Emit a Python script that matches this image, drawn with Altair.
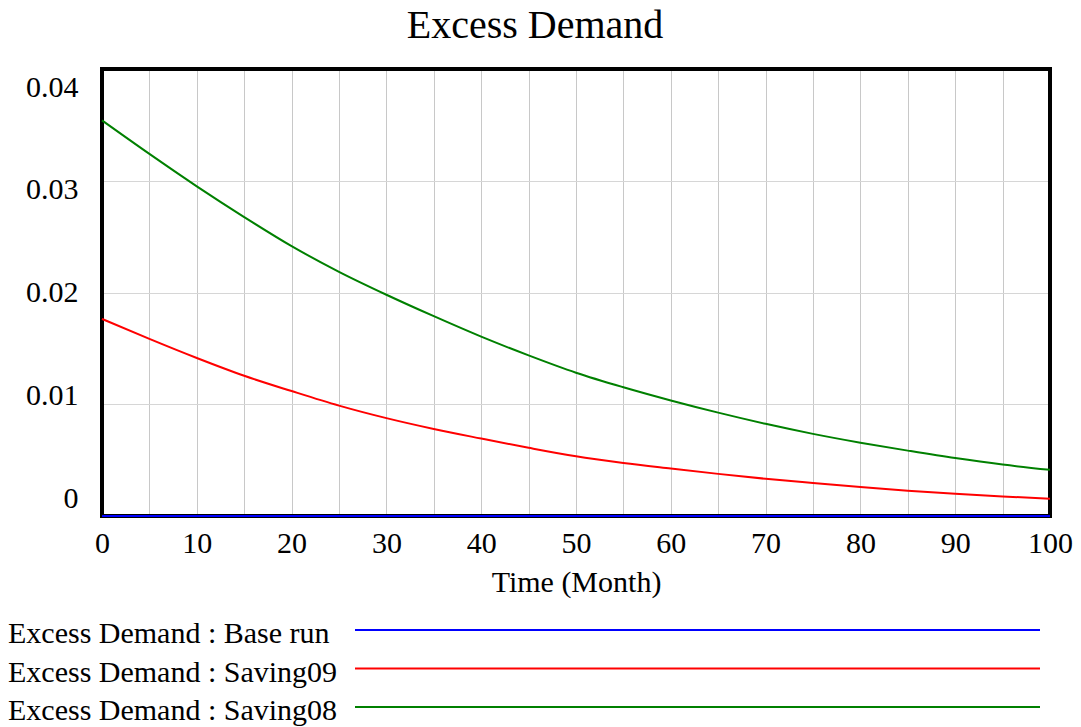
import altair as alt
import pandas as pd

FONT = "Liberation Serif"

months = [0, 5, 10, 15, 20, 25, 30, 35, 40, 45, 50, 55, 60, 65, 70, 75, 80, 85, 90, 95, 100]
base_run = [0.0, 0.0, 0.0, 0.0, 0.0, 0.0, 0.0, 0.0, 0.0, 0.0, 0.0,
            0.0, 0.0, 0.0, 0.0, 0.0, 0.0, 0.0, 0.0, 0.0, 0.0]
saving09 = [0.01764, 0.01585, 0.01414, 0.01255, 0.01118, 0.00988, 0.00876, 0.00779, 0.00693, 0.00610, 0.00534,
            0.00475, 0.00425, 0.00377, 0.00333, 0.00295, 0.00259, 0.00227, 0.00199, 0.00175, 0.00155]
saving08 = [0.03540, 0.03240, 0.02950, 0.02675, 0.02415, 0.02185, 0.01980, 0.01788, 0.01605, 0.01437, 0.01282,
            0.01152, 0.01034, 0.00925, 0.00825, 0.00735, 0.00656, 0.00585, 0.00518, 0.00460, 0.00413]

series_names = ["Excess Demand : Base run", "Excess Demand : Saving09", "Excess Demand : Saving08"]
series_colors = ["#0000FF", "#FF0000", "#008000"]
x_ticks = [0, 5, 10, 15, 20, 25, 30, 35, 40, 45, 50, 55, 60, 65, 70, 75, 80, 85, 90, 95, 100]
y_ticks = [0, 0.01, 0.02, 0.03, 0.04]
chart_title = ["Excess Demand"]

rows = []
for name, vals in zip(series_names, [base_run, saving09, saving08]):
    for m, v in zip(months, vals):
        rows.append({"month": m, "value": v, "series": name})
df = pd.DataFrame(rows)

W, H = 948, 447

color = alt.Color("series:N", scale=alt.Scale(domain=series_names, range=series_colors), legend=None)

frame = alt.Chart(pd.DataFrame({"f": [0]})).mark_rect(
    fillOpacity=0, stroke="black", strokeWidth=4
).encode(x=alt.value(0), x2=alt.value(W), y=alt.value(0), y2=alt.value(H))

lines = alt.Chart(df).mark_line(strokeWidth=2, interpolate="monotone").encode(
    x=alt.X("month:Q", scale=alt.Scale(domain=[0, 100], nice=False),
            axis=alt.Axis(values=x_ticks,
                          labelExpr="datum.value % 10 == 0 ? datum.label : ''",
                          title="Time (Month)", grid=True, gridColor="#C8C8C8", gridWidth=1,
                          domain=False, ticks=False, labelPadding=12, titlePadding=9,
                          labelFont=FONT, labelFontSize=30, labelColor="black",
                          titleFont=FONT, titleFontSize=30, titleFontWeight="normal", titleColor="black",
                          labelFlush=False, labelOverlap=False, labelBound=False)),
    y=alt.Y("value:Q", scale=alt.Scale(domain=[0, 0.04], nice=False),
            axis=alt.Axis(values=y_ticks, format="~g", title=None, grid=True,
                          gridColor="#D6D6D6", gridWidth=1, domain=False, ticks=False,
                          labelPadding=24, labelFont=FONT, labelFontSize=30, labelColor="black",
                          labelOffset={"expr": "-18 + 900 * datum.value"},
                          labelFlush=False, labelOverlap=False, labelBound=False)),
    color=color,
)

title_mark = alt.Chart(pd.DataFrame({"t": chart_title})).mark_text(
    align="center", baseline="alphabetic", font=FONT, fontSize=40, color="black"
).encode(x=alt.value(433), y=alt.value(-31), text="t:N")

leg_df = pd.DataFrame({"series": series_names})
leg_y = alt.Y("series:N", scale=alt.Scale(type="point", domain=series_names, range=[561, 638], padding=0),
              axis=None)

leg_rule = alt.Chart(leg_df).mark_rule(strokeWidth=2).encode(
    x=alt.value(253), x2=alt.value(938), y=leg_y, color=color)
leg_text = alt.Chart(leg_df).mark_text(
    align="left", baseline="alphabetic", dy=13, font=FONT, fontSize=30, color="black"
).encode(x=alt.value(-94), y=leg_y, text="series:N")

chart = alt.layer(frame, lines, title_mark, leg_rule, leg_text).resolve_scale(y="independent").properties(
    width=W, height=H,
    autosize=alt.AutoSizeParams(type="none"),
    padding={"left": 94, "top": 61, "right": 23, "bottom": 211},
    background="white",
).configure_view(strokeWidth=0)

chart.save("out.html", embed_options={"renderer": "svg", "actions": False})
